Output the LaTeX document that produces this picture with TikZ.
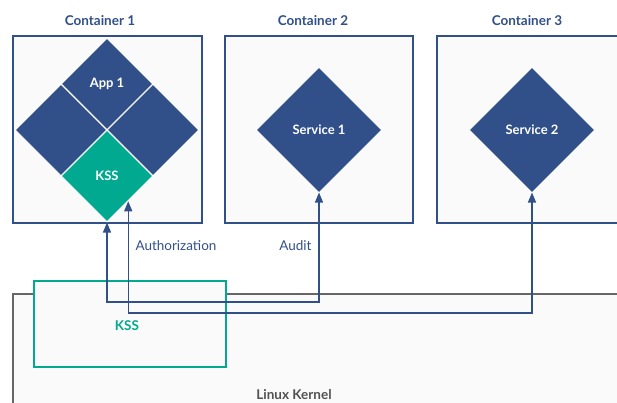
\documentclass[tikz,border=0pt]{standalone}
\usepackage{fontspec}
\setmainfont{Lato}
\usetikzlibrary{shapes.geometric,arrows.meta}
\definecolor{dblue}{HTML}{31508A}
\definecolor{kgreen}{HTML}{00A98F}
\definecolor{boxfill}{HTML}{FAFAFA}
\definecolor{kgray}{HTML}{666666}
\tikzset{
  cont/.style={draw=dblue,line width=1.3pt,fill=boxfill},
  title/.style={text=dblue,font=\fontsize{13.5}{15}\selectfont\bfseries},
  dia/.style={diamond,aspect=1,inner sep=0pt,fill=dblue,draw=white,line width=1pt,text=white,font=\fontsize{13}{15}\selectfont\bfseries},
  small/.style={dia,minimum width=92pt,minimum height=92pt},
  big/.style={dia,draw=none,minimum width=124pt,minimum height=124pt},
  conn/.style={draw=dblue,line width=1.3pt,{Triangle[width=8pt,length=10pt]}-{Triangle[width=8pt,length=10pt]}},
  lbl/.style={text=dblue,font=\fontsize{13.5}{15}\selectfont}
}
\begin{document}
\begin{tikzpicture}[x=1pt,y=-1pt]
\useasboundingbox (0,0) rectangle (617,403);
\clip (0,0) rectangle (617,403);
% kernel
\path[draw=kgray,line width=1.3pt,fill=boxfill] (13,294) rectangle (640,430);
\node[text=kgray!80!black,font=\fontsize{13.5}{15}\selectfont\bfseries] (lk) at (294,395) {Linux Kernel};
% KSS box
\node[draw=kgreen,line width=1.3pt,fill=boxfill,minimum width=192pt,minimum height=86pt,inner sep=0pt] (kssbox) at (130,324) {};
\node[text=kgreen,font=\fontsize{13.5}{15}\selectfont\bfseries] (kssl) at (127,326) {KSS};
% containers
\path[cont] (13,36) rectangle (202,223);
\path[cont] (225,36) rectangle (413,223);
\path[cont] (437,36) rectangle (630,223);
\node[title] (t1) at (100,21) {Container 1};
\node[title] (t2) at (313,21) {Container 2};
\node[title] (t3) at (527,21) {Container 3};
% container 1 diamonds
\node[small] (app) at (107,84) {App 1};
\node[small] (dl) at (61,130) {};
\node[small] (dr) at (153,130) {};
\node[small,fill=kgreen] (kss) at (107,176) {KSS};
% services
\node[big] (s1) at (319,130) {Service 1};
\node[big] (s2) at (532,130) {Service 2};
% connectors
\draw[conn] (kss.south) -- (kss.south |- 0,302) -| (s1.south);
\draw[conn] (kss.-50) -- (kss.-50 |- 0,313) -| (s2.south);
\node[lbl,anchor=west] (auth) at (132,246) {Authorization};
\node[lbl,anchor=east] (aud) at (315,246) {Audit};
\end{tikzpicture}
\end{document}
